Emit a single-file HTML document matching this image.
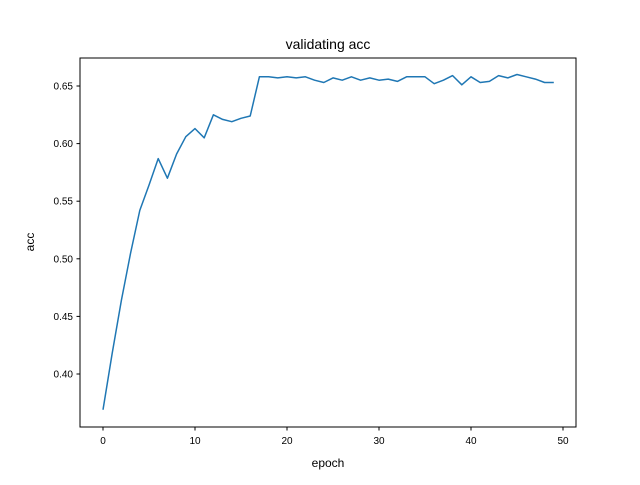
<!DOCTYPE html>
<html><head><meta charset="utf-8"><style>
body{margin:0;background:#fff;font-family:"Liberation Sans","DejaVu Sans",sans-serif}
</style></head><body>
<svg id="c" width="640" height="480" xmlns="http://www.w3.org/2000/svg"></svg>
<script>
const epochs=[];for(let i=0;i<50;i++)epochs.push(i);
const accValues=[0.369,0.418,0.464,0.505,0.542,0.564,0.587,0.570,0.591,0.606,0.613,0.605,0.625,0.621,0.619,0.622,0.624,0.658,0.658,0.657,0.658,0.657,0.658,0.655,0.653,0.657,0.655,0.658,0.655,0.657,0.655,0.656,0.654,0.658,0.658,0.658,0.652,0.655,0.659,0.651,0.658,0.653,0.654,0.659,0.657,0.660,0.658,0.656,0.653,0.653];
const xTicks=[0,10,20,30,40,50];
const yTicks=[0.40,0.45,0.50,0.55,0.60,0.65];
const L=80,R=576,T=58,B=427;
const xs=v=>103+(v)*9.2;
const ys=v=>86+(0.65-v)*1152;
const svg=document.getElementById('c');
const NS='http://www.w3.org/2000/svg';
function mk(t,a,txt){const e=document.createElementNS(NS,t);for(const k in a)e.setAttribute(k,a[k]);if(txt!==undefined)e.textContent=txt;svg.appendChild(e);return e;}
let e=mk('rect',{x:L,y:T,width:R-L,height:B-T,fill:'none',stroke:'#000','stroke-width':1});


let d=accValues.map((v,i)=>(i?'L':'M')+xs(epochs[i]).toFixed(1)+' '+ys(v).toFixed(1)).join(' ');
e=mk('path',{d:d,fill:'none',stroke:'#1f77b4','stroke-width':1.5,'stroke-linejoin':'round'});


xTicks.forEach(t=>{const x=xs(t);
e=mk('line',{x1:x,x2:x,y1:B,y2:B+3.5,stroke:'#000'});


e=mk('text',{x:x,y:B+17,'font-size':10,'text-anchor':'middle'},String(t));

});
yTicks.forEach(t=>{const y=ys(t);
e=mk('line',{x1:L-3.5,x2:L,y1:y,y2:y,stroke:'#000'});


e=mk('text',{x:L-7,y:y+3.5,'font-size':10,'text-anchor':'end'},t.toFixed(2));

});
e=mk('text',{x:328,y:467,'font-size':12,'text-anchor':'middle'},'epoch');


e=mk('text',{x:0,y:0,'font-size':12,'text-anchor':'middle',transform:'translate(34,242) rotate(-90)'},'acc');


e=mk('text',{x:328,y:49,'font-size':14,'text-anchor':'middle'},'validating acc');


</script>
</body></html>
